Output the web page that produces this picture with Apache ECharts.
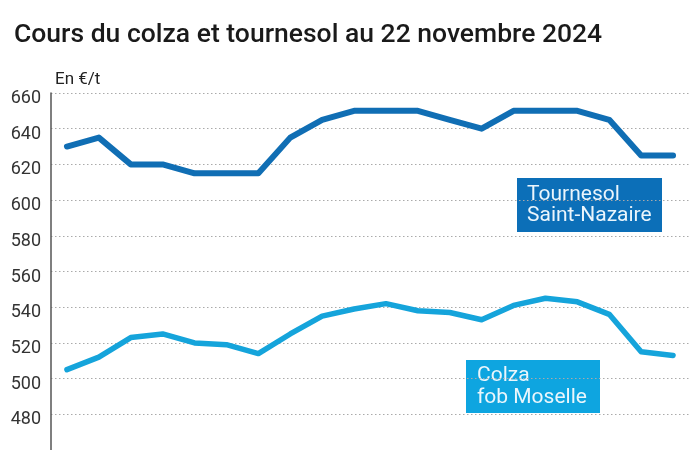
<!DOCTYPE html>
<html>
<head>
<meta charset="utf-8">
<script src="https://cdn.jsdelivr.net/npm/echarts@6/dist/echarts.min.js"></script>
<style>
html,body{margin:0;padding:0;background:#fff;}
#chart{width:700px;height:450px;}
</style>
</head>
<body>
<div id="chart"></div>
<script>
var categories = ['1','2','3','4','5','6','7','8','9','10','11','12','13','14','15','16','17','18','19','20'];
var tournesol = [630, 635, 620, 620, 615, 615, 615, 635, 645, 650, 650, 650, 645, 640, 650, 650, 650, 645, 625, 625];
var colza = [505, 512, 523, 525, 520, 519, 514, 525, 535, 539, 542, 538, 537, 533, 541, 545, 543, 536, 515, 513];
var yTicks = [460, 480, 500, 520, 540, 560, 580, 600, 620, 640, 660];

var chart = echarts.init(document.getElementById('chart'), null, {renderer: 'canvas'});
var font = 'Roboto, "Noto Sans", sans-serif';
chart.setOption({
  animation: false,
  backgroundColor: '#ffffff',
  title: [
    {text: 'Cours du colza et tournesol au 22 novembre 2024', left: 9, top: 17,
     textStyle: {fontFamily: font, fontSize: 26.5, fontWeight: 500, color: '#1a1a1a'}},
    {text: 'En €/t', left: 50, top: 66,
     textStyle: {fontFamily: font, fontSize: 17, fontWeight: 'normal', color: '#222'}}
  ],
  grid: {left: 51, right: 11, top: 93, bottom: -4, containLabel: false},
  xAxis: {
    type: 'category', data: categories, boundaryGap: true,
    axisLine: {show: false}, axisTick: {show: false}, axisLabel: {show: false}, splitLine: {show: false}
  },
  yAxis: {
    type: 'value', min: yTicks[0], max: yTicks[yTicks.length - 1], interval: 20,
    axisLine: {show: true, lineStyle: {color: '#555', width: 1.5}},
    axisTick: {show: false},
    axisLabel: {fontFamily: font, fontSize: 18, color: '#333', margin: 10,
      verticalAlign: 'top', lineHeight: 11,
      formatter: function (v) { return v < 480 ? '' : String(v); }},
    splitLine: {show: true, lineStyle: {color: '#aaa', type: [1.5, 2.5], width: 1}}
  },
  series: [
    {name: 'Tournesol Saint-Nazaire', type: 'line', data: tournesol, symbol: 'none',
     lineStyle: {color: '#106eb4', width: 6, cap: 'round', join: 'round'}},
    {name: 'Colza fob Moselle', type: 'line', data: colza, symbol: 'none',
     lineStyle: {color: '#15a4db', width: 5.5, cap: 'round', join: 'round'}}
  ],
  graphic: [
    {type: 'rect', left: 517, top: 178, shape: {width: 145, height: 54}, style: {fill: '#0c6fb8'}},
    {type: 'text', left: 527, top: 184, style: {text: 'Tournesol\nSaint-Nazaire', fill: '#eaf5fc',
      font: '21px Roboto, "Noto Sans", sans-serif', lineHeight: 21}},
    {type: 'rect', left: 466, top: 360, shape: {width: 134, height: 53}, style: {fill: '#0ea5e0'}},
    {type: 'text', left: 477, top: 365, style: {text: 'Colza\nfob Moselle', fill: '#eaf6fc',
      font: '21px Roboto, "Noto Sans", sans-serif', lineHeight: 22}}
  ]
});
</script>
</body>
</html>
